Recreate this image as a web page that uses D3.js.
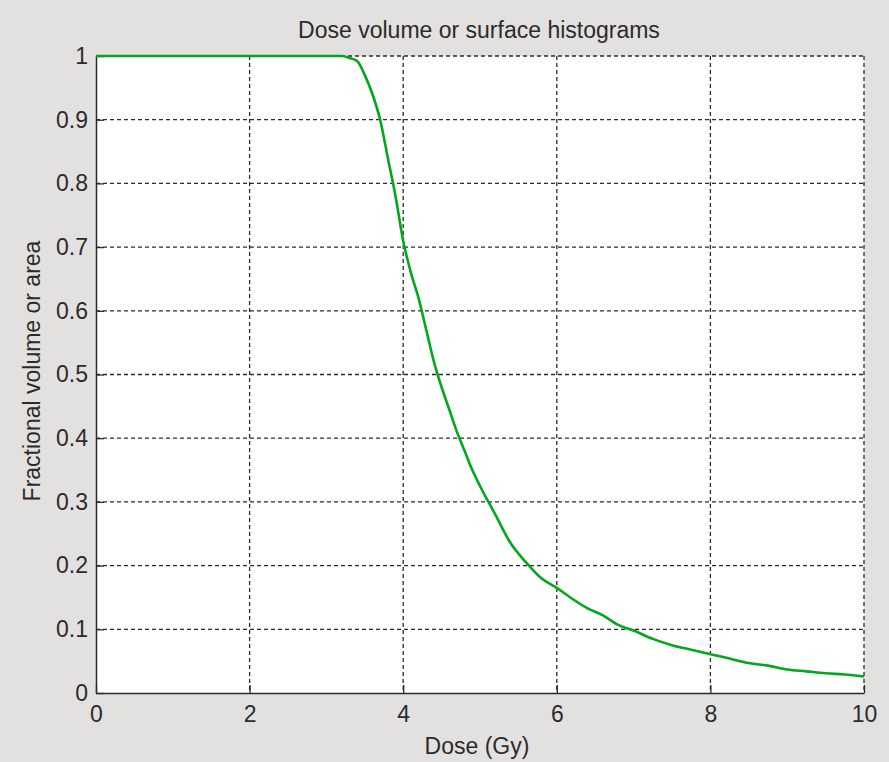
<!DOCTYPE html>
<html>
<head>
<meta charset="utf-8">
<script src="https://cdn.jsdelivr.net/npm/d3@7"></script>
<style>
  body { margin: 0; background: #e3e1df; }
  text { font-family: "Liberation Sans", Arial, sans-serif; fill: #2b2b2b; }
</style>
</head>
<body>
<div id="chart"></div>
<script>
// dose (Gy) vs fractional volume
const dose = [0, 3.2, 3.3, 3.4, 3.5, 3.6, 3.7, 3.8, 3.9, 4.0, 4.1, 4.2, 4.3, 4.4, 4.5, 4.6, 4.7, 4.8, 4.9, 5.0,
  5.2, 5.4, 5.6, 5.8, 6.0, 6.2, 6.4, 6.6, 6.8, 7.0, 7.25, 7.5, 7.75, 8.0, 8.25, 8.5, 8.75, 9.0, 9.25, 9.5, 9.75, 10];
const volume = [1, 1, 0.997, 0.992, 0.97, 0.94, 0.90, 0.84, 0.78, 0.71, 0.66, 0.62, 0.57, 0.52, 0.48, 0.445, 0.41, 0.38, 0.35, 0.325,
  0.28, 0.235, 0.205, 0.18, 0.165, 0.148, 0.133, 0.122, 0.107, 0.098, 0.085, 0.075, 0.068, 0.061, 0.054, 0.047, 0.043, 0.037, 0.034, 0.031, 0.029, 0.026];
const xTicks = [0, 2, 4, 6, 8, 10];
const yTicks = [0, 0.1, 0.2, 0.3, 0.4, 0.5, 0.6, 0.7, 0.8, 0.9, 1];

const W = 889, H = 762;
const m = { left: 96, right: 864, top: 56, bottom: 693 };
const fs = "23px";

const svg = d3.select("#chart")
  .append("svg")
    .attr("width", W)
    .attr("height", H);

svg.append("rect")
  .attr("width", W).attr("height", H)
  .attr("fill", "#e3e1df");

const x = d3.scaleLinear().domain([0, 10]).range([m.left, m.right]);
const y = d3.scaleLinear().domain([0, 1]).range([m.bottom, m.top]);

svg.append("rect")
  .attr("x", m.left).attr("y", m.top)
  .attr("width", m.right - m.left).attr("height", m.bottom - m.top)
  .attr("fill", "#fff");

// grid
const grid = svg.append("g")
  .attr("stroke", "#2b2b2b")
  .attr("stroke-width", 1.3)
  .attr("stroke-dasharray", "4,3");

grid.selectAll(".gx")
  .data(xTicks.filter(d => d > 0))
  .enter().append("line")
    .attr("x1", d => x(d)).attr("x2", d => x(d))
    .attr("y1", m.top).attr("y2", m.bottom);

grid.selectAll(".gy")
  .data(yTicks.filter(d => d > 0))
  .enter().append("line")
    .attr("x1", m.left).attr("x2", m.right)
    .attr("y1", d => y(d)).attr("y2", d => y(d));

// axes, ticks inward like matlab
const xAxis = d3.axisBottom(x).tickValues(xTicks).tickSizeInner(-8).tickSizeOuter(0);
const yAxis = d3.axisLeft(y).tickValues(yTicks).tickSizeInner(-8).tickSizeOuter(0)
  .tickFormat(d => String(+d.toFixed(1)));

const gx = svg.append("g").attr("transform", `translate(0,${m.bottom})`).call(xAxis);
const gy = svg.append("g").attr("transform", `translate(${m.left},0)`).call(yAxis);

[gx, gy].forEach(g => {
  g.select(".domain").attr("stroke", "#2b2b2b").attr("stroke-width", 1.5);
  g.selectAll(".tick line").attr("stroke", "#2b2b2b").attr("stroke-width", 1.3);
  g.selectAll(".tick text").style("font-size", fs).attr("fill", "#2b2b2b");
});
gx.selectAll(".tick text").attr("dy", "0.71em").attr("y", 13);
gy.selectAll(".tick text").attr("x", -8);

// curve
const line = d3.line()
  .x((d, i) => x(dose[i]))
  .y((d, i) => y(volume[i]))
  .curve(d3.curveMonotoneX);

svg.append("path")
  .datum(dose)
  .attr("d", line)
  .attr("fill", "none")
  .attr("stroke", "#00a81c")
  .attr("stroke-width", 2.6);

// labels
svg.append("text")
  .attr("x", 479).attr("y", 38)
  .attr("text-anchor", "middle")
  .style("font-size", fs)
  .text("Dose volume or surface histograms");

svg.append("text")
  .attr("x", 477).attr("y", 754)
  .attr("text-anchor", "middle")
  .style("font-size", fs)
  .text("Dose (Gy)");

svg.append("text")
  .attr("transform", "translate(40,371) rotate(-90)")
  .attr("text-anchor", "middle")
  .style("font-size", fs)
  .text("Fractional volume or area");
</script>
</body>
</html>
